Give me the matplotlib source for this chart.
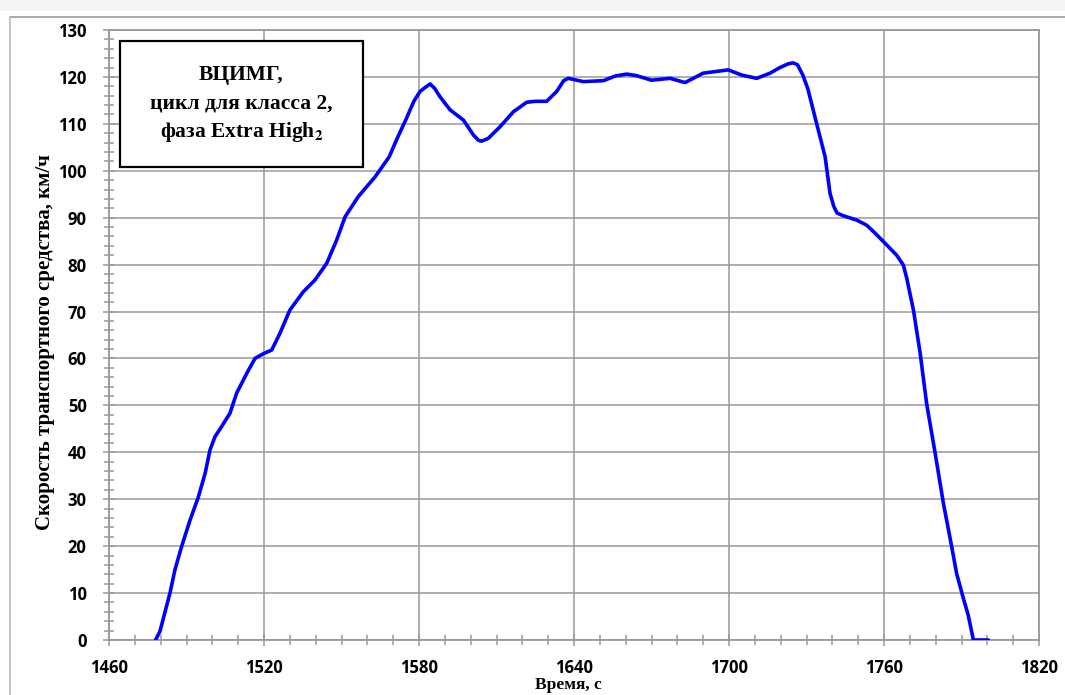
import matplotlib
matplotlib.use("Agg")
import matplotlib.pyplot as plt
from matplotlib.patches import Rectangle
from matplotlib.lines import Line2D
from matplotlib.ticker import MultipleLocator

time_s = [1478, 1479.7, 1483.6, 1485.5, 1488.1, 1491.4, 1494.6, 1497.2, 1499.1,
          1501, 1503.6, 1506.8, 1509.4, 1513.3, 1516.5, 1519.7, 1523, 1526.2,
          1530, 1535.2, 1539.7, 1544.3, 1548.1, 1551.4, 1556.5, 1563, 1568.5,
          1571.3, 1575, 1578, 1580.4, 1582.5, 1584.3, 1586, 1588.1, 1592,
          1597.2, 1601.1, 1603, 1604.2, 1606.8, 1611.4, 1616.6, 1621.7, 1625,
          1629.4, 1633.3, 1636, 1637.8, 1643.6, 1651.4, 1656, 1660.4, 1664,
          1670, 1677.2, 1683, 1690, 1699.7, 1704.9, 1710.7, 1715.9, 1719.7,
          1723, 1724.8, 1726.5, 1728.5, 1730.5, 1733.9, 1737.2, 1739.1,
          1740.5, 1741.8, 1744.3, 1749.4, 1753.3, 1756, 1759.8, 1764.9,
          1767.5, 1768.8, 1771.4, 1774, 1776.5, 1779.8, 1783, 1786.2, 1788.1,
          1790.7, 1792.6, 1794.6, 1800.4]
speed_kmh = [0, 1.8, 10, 14.9, 19.9, 25.6, 30.5, 35.5, 40.5,
             43.3, 45.5, 48.3, 52.6, 56.8, 60.0, 61.0, 61.8, 65.4,
             70.3, 74.2, 76.7, 80.3, 85.2, 90.2, 94.5, 98.7, 103,
             106.6, 111, 114.8, 116.9, 117.8, 118.5, 117.6, 115.8, 113,
             110.8, 107.6, 106.5, 106.3, 106.9, 109.4, 112.6, 114.6, 114.8,
             114.8, 116.9, 119.2, 119.7, 119, 119.2, 120.2, 120.6, 120.3,
             119.3, 119.7, 118.8, 120.8, 121.5, 120.4, 119.7, 120.8, 122,
             122.8, 123.0, 122.6, 120.5, 117.5, 110.1, 103, 95.2,
             92.5, 91, 90.4, 89.5, 88.4, 87, 84.9, 82,
             79.9, 77.1, 70.3, 61.1, 50.4, 39.8, 29.1, 19.9, 14.2,
             8.9, 5.3, 0, 0]

x_ticks = [1460, 1520, 1580, 1640, 1700, 1760, 1820]
y_ticks = list(range(0, 131, 10))
box_lines = ["ВЦИМГ,", "цикл для класса 2,", r"фаза Extra High$_\mathbf{2}$"]
x_label = "Время, с"
y_label = "Скорость транспортного средства, км/ч"

plt.rcParams["mathtext.fontset"] = "stix"

W, H = 1065, 695
fig = plt.figure(figsize=(W / 100, H / 100), dpi=100)

# рамка вокруг области диаграммы (как в скриншоте)
fig.patches.append(Rectangle((0, 1 - 11 / H), 1, 11 / H, transform=fig.transFigure,
                             facecolor="#f4f4f4", edgecolor="none"))
fig.lines.append(Line2D([10 / W, 1], [1 - 17 / H, 1 - 17 / H], transform=fig.transFigure,
                        color="#999999", lw=1.2))
fig.lines.append(Line2D([10 / W, 10 / W], [0, 1 - 17 / H], transform=fig.transFigure,
                        color="#bbbbbb", lw=1.2))

ax = fig.add_axes([109 / W, 1 - 640 / H, 930 / W, 610 / H])
ax.plot(time_s, speed_kmh, color="#0000ff", lw=2.6, solid_joinstyle="round",
        solid_capstyle="round", zorder=3)

ax.set_xlim(1460, 1820)
ax.set_ylim(0, 130)
ax.set_xticks(x_ticks)
ax.set_yticks(y_ticks)
ax.xaxis.set_minor_locator(MultipleLocator(10))
ax.yaxis.set_minor_locator(MultipleLocator(2))
ax.grid(True, which="major", color="#999999", lw=1.1)
ax.set_axisbelow(True)
for s in ax.spines.values():
    s.set_color("#999999")
    s.set_linewidth(1.3)
ax.tick_params(which="both", direction="inout", color="#999999", width=1.1)
ax.tick_params(which="major", length=8)
ax.tick_params(which="minor", length=7)
ax.tick_params(axis="y", which="major", pad=12)
ax.tick_params(axis="x", which="major", pad=10)
for lab in ax.get_xticklabels() + ax.get_yticklabels():
    lab.set_fontfamily("Open Sans")
    lab.set_fontweight("bold")
    lab.set_fontsize(12)

# подпись с названием цикла
ax.add_patch(Rectangle((0.0118, 0.7754), 0.2613, 0.2066, transform=ax.transAxes,
                       facecolor="white", edgecolor="black", lw=1.6, zorder=5))
for txt, yy in zip(box_lines, [0.926, 0.879, 0.832]):
    ax.text(0.1425, yy, txt, transform=ax.transAxes, ha="center", va="center",
            fontsize=15.5, fontweight="bold", zorder=6,
            family=["Liberation Serif", "DejaVu Serif"])

fig.text(568 / W, 1 - 685 / H, x_label, ha="center", va="center",
         fontsize=12.5, fontweight="bold", family="Liberation Serif")
fig.text(45 / W, 1 - 342 / H, y_label, ha="center", va="center", rotation=90,
         fontsize=15, fontweight="bold", family="Liberation Serif")

fig.savefig("out.png", dpi=100)
